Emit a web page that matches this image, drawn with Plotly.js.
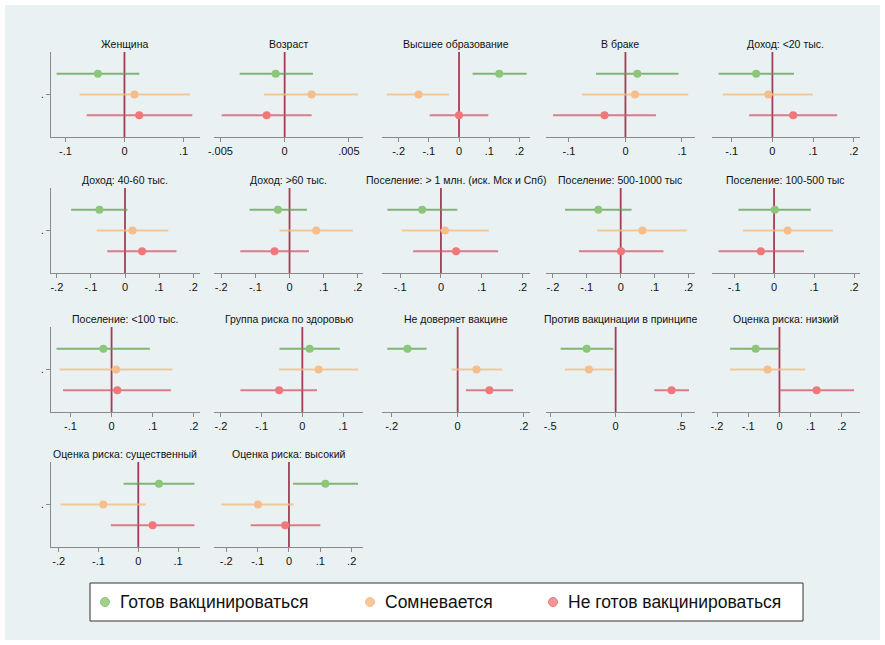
<!DOCTYPE html>
<html>
<head>
<meta charset="utf-8">
<script src="https://cdn.plot.ly/plotly-3.0.1.min.js"></script>
<style>
html,body{margin:0;padding:0;background:#ffffff;}
#chart{width:885px;height:645px;}
</style>
</head>
<body>
<div id="chart"></div>
<script>
// ---------------- DATA ----------------
const panelTitles = [
  "Женщина", "Возраст", "Высшее образование", "В браке", "Доход: <20 тыс.",
  "Доход: 40-60 тыс.", "Доход: >60 тыс.", "Поселение: > 1 млн. (иск. Мск и Спб)", "Поселение: 500-1000 тыс", "Поселение: 100-500 тыс",
  "Поселение: <100 тыс.", "Группа риска по здоровью", "Не доверяет вакцине", "Против вакцинации в принципе", "Оценка риска: низкий",
  "Оценка риска: существенный", "Оценка риска: высокий"
];

const seriesNames = ["Готов вакцинироваться", "Сомневается", "Не готов вакцинироваться"];

// Готов вакцинироваться
const readyPoint = [-0.045, -0.0007, 0.133, 0.021, -0.040, -0.075, -0.034, -0.046, -0.066, 0.002, -0.020, 0.018, -0.152, -0.221, -0.076, 0.052, 0.116];
const readyLow   = [-0.115, -0.0035, 0.045, -0.052, -0.132, -0.158, -0.117, -0.131, -0.164, -0.089, -0.134, -0.056, -0.213, -0.420, -0.158, -0.037, 0.013];
const readyHigh  = [0.025, 0.0022, 0.224, 0.094, 0.053, 0.007, 0.051, 0.040, 0.032, 0.092, 0.093, 0.092, -0.094, -0.018, 0.002, 0.141, 0.220];

// Сомневается
const doubtPoint = [0.017, 0.0021, -0.134, 0.017, -0.010, 0.022, 0.078, 0.010, 0.064, 0.034, 0.011, 0.040, 0.057, -0.204, -0.038, -0.088, -0.099];
const doubtLow   = [-0.076, -0.0016, -0.239, -0.077, -0.122, -0.083, -0.029, -0.096, -0.069, -0.078, -0.126, -0.057, -0.018, -0.387, -0.158, -0.195, -0.215];
const doubtHigh  = [0.111, 0.0057, -0.033, 0.111, 0.099, 0.127, 0.185, 0.117, 0.194, 0.147, 0.148, 0.137, 0.135, -0.018, 0.082, 0.019, 0.015];

// Не готов вакцинироваться
const notPoint = [0.025, -0.0014, 0.000, -0.037, 0.051, 0.050, -0.044, 0.037, 0.001, -0.033, 0.014, -0.057, 0.096, 0.427, 0.119, 0.036, -0.012];
const notLow   = [-0.064, -0.0049, -0.097, -0.128, -0.057, -0.052, -0.144, -0.068, -0.123, -0.139, -0.118, -0.152, 0.025, 0.295, 0.000, -0.069, -0.122];
const notHigh  = [0.115, 0.0021, 0.097, 0.054, 0.159, 0.151, 0.057, 0.140, 0.126, 0.075, 0.144, 0.036, 0.168, 0.560, 0.239, 0.141, 0.100];

// x tick values per panel
const tickValues = [
  [-0.1, 0, 0.1], [-0.005, 0, 0.005], [-0.2, -0.1, 0, 0.1, 0.2], [-0.1, 0, 0.1], [-0.1, 0, 0.1, 0.2],
  [-0.2, -0.1, 0, 0.1, 0.2], [-0.2, -0.1, 0, 0.1, 0.2], [-0.1, 0, 0.1, 0.2], [-0.2, -0.1, 0, 0.1, 0.2], [-0.1, 0, 0.1, 0.2],
  [-0.1, 0, 0.1, 0.2], [-0.2, -0.1, 0, 0.1], [-0.2, 0, 0.2], [-0.5, 0, 0.5], [-0.2, -0.1, 0, 0.1, 0.2],
  [-0.2, -0.1, 0, 0.1], [-0.2, -0.1, 0, 0.1, 0.2]
];
const yTickLabel = ["."];
const referenceValue = 0;

// ---------------- LAYOUT CONFIG ----------------
const xRanges = [
  [-0.125, 0.128], [-0.0055, 0.0061], [-0.256, 0.235], [-0.141, 0.123], [-0.149, 0.215],
  [-0.218, 0.22], [-0.221, 0.215], [-0.145, 0.218], [-0.221, 0.219], [-0.156, 0.215],
  [-0.148, 0.215], [-0.217, 0.149], [-0.23, 0.219], [-0.534, 0.606], [-0.217, 0.258],
  [-0.22, 0.155], [-0.239, 0.236]
];
const W = 885, H = 645;
const colPx = [[50.7, 200], [214, 363], [381.7, 530], [545.7, 695], [711.7, 860]];
const rowPx = [[52, 137], [188, 273], [327, 412], [462, 547]];
const yPos = [1.245, 1.0, 0.755];

const lineColors = ["rgba(95,160,75,0.75)", "rgba(243,190,130,0.8)", "rgba(214,85,100,0.75)"];
const markerColors = ["rgb(140,198,120)", "rgb(247,190,140)", "rgb(240,120,122)"];
const legendMarkerColors = ["rgb(160,208,140)", "rgb(248,200,155)", "rgb(242,150,150)"];

const points = [readyPoint, doubtPoint, notPoint];
const lows = [readyLow, doubtLow, notLow];
const highs = [readyHigh, doubtHigh, notHigh];

function fmtTick(v) {
  if (v === 0) return "0";
  return String(v).replace("0.", ".");
}

const traces = [];
const layout = {
  width: W, height: H,
  margin: {l: 0, r: 0, t: 0, b: 0},
  paper_bgcolor: "#ffffff",
  plot_bgcolor: "#ffffff",
  showlegend: false,
  font: {family: "Liberation Sans, Arial, sans-serif", color: "#111"},
  annotations: [],
  shapes: [
    {type: "rect", xref: "paper", yref: "paper", layer: "below",
     x0: 5 / W, x1: 880 / W, y0: 1 - 640 / H, y1: 1 - 5 / H,
     fillcolor: "#e9f1f3", line: {width: 0}}
  ]
};

for (let i = 0; i < panelTitles.length; i++) {
  const r = Math.floor(i / 5), c = i % 5;
  const ax = i + 1;
  const xName = "xaxis" + (ax === 1 ? "" : ax);
  const yName = "yaxis" + (ax === 1 ? "" : ax);
  const xRef = "x" + (ax === 1 ? "" : ax);
  const yRef = "y" + (ax === 1 ? "" : ax);
  const xd = [colPx[c][0] / W, colPx[c][1] / W];
  const yd = [1 - rowPx[r][1] / H, 1 - rowPx[r][0] / H];

  layout[xName] = {
    domain: xd, anchor: yRef, range: xRanges[i],
    showgrid: false, zeroline: false,
    showline: true, linecolor: "#8a8a8a", linewidth: 1,
    ticks: "outside", ticklen: 4, tickcolor: "#8a8a8a", tickwidth: 1,
    tickvals: tickValues[i], ticktext: tickValues[i].map(fmtTick),
    tickfont: {size: 11, color: "#111"}, fixedrange: true
  };
  const firstCol = (c === 0);
  layout[yName] = {
    domain: yd, anchor: xRef, range: [0.5, 1.5],
    showgrid: false, zeroline: false,
    showline: firstCol, linecolor: "#8a8a8a", linewidth: 1,
    ticks: firstCol ? "outside" : "", ticklen: 4, tickcolor: "#8a8a8a",
    tickvals: [1], ticktext: yTickLabel, showticklabels: firstCol,
    tickfont: {size: 10, color: "#111"}, fixedrange: true
  };

  // vertical reference line at zero
  layout.shapes.push({
    type: "line", xref: xRef, yref: yRef + " domain", layer: "below",
    x0: referenceValue, x1: referenceValue, y0: 0, y1: 1,
    line: {color: "rgb(165,60,85)", width: 1.8}
  });

  layout.annotations.push({
    text: panelTitles[i], xref: "paper", yref: "paper",
    x: (xd[0] + xd[1]) / 2, y: 1 - (rowPx[r][0] - 8) / H,
    xanchor: "center", yanchor: "middle", showarrow: false,
    font: {size: 10.5, color: "#111"}
  });

  for (let s = 0; s < 3; s++) {
    const p = points[s][i];
    traces.push({
      type: "scatter", mode: "markers",
      x: [p], y: [yPos[s]], xaxis: xRef, yaxis: yRef,
      name: seriesNames[s], showlegend: false, hoverinfo: "x",
      marker: {size: 8, color: markerColors[s]},
      error_x: {type: "data", symmetric: false,
        array: [highs[s][i] - p], arrayminus: [p - lows[s][i]],
        width: 0, thickness: 2, color: lineColors[s]}
    });
  }
}

// Legend box (manual)
const legBox = {x0: 90, x1: 803, y0: 583, y1: 621};
layout.shapes.push({type: "rect", xref: "paper", yref: "paper",
  x0: legBox.x0 / W, x1: legBox.x1 / W, y0: 1 - legBox.y1 / H, y1: 1 - legBox.y0 / H,
  fillcolor: "#ffffff", line: {color: "#333", width: 1}});
const legMarkerX = [105, 370, 553];
const legY = 602;
for (let s = 0; s < 3; s++) {
  layout.shapes.push({type: "circle", xref: "paper", yref: "paper",
    xsizemode: "pixel", ysizemode: "pixel",
    xanchor: legMarkerX[s] / W, yanchor: 1 - legY / H,
    x0: -4.5, x1: 4.5, y0: -4.5, y1: 4.5,
    fillcolor: legendMarkerColors[s], line: {color: markerColors[s], width: 1}});
  layout.annotations.push({
    text: seriesNames[s], xref: "paper", yref: "paper",
    x: (legMarkerX[s] + 13) / W, y: 1 - legY / H,
    xanchor: "left", yanchor: "middle", showarrow: false,
    font: {size: 17.5, color: "#111"}
  });
}

Plotly.newPlot("chart", traces, layout, {displayModeBar: false, staticPlot: true});
</script>
</body>
</html>
